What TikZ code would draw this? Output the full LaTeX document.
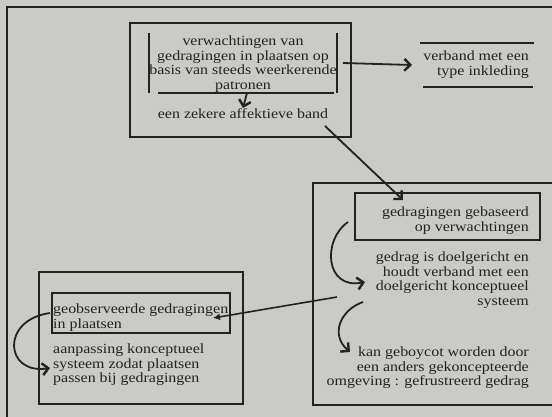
\documentclass[tikz,border=0pt]{standalone}
\usepackage{fontspec}
\setmainfont{Liberation Serif}[FakeStretch=1.14]
\usepackage{xcolor}
\definecolor{paper}{HTML}{CACAC6}
\definecolor{ink}{HTML}{222222}
\usepackage{tikz}
\usetikzlibrary{arrows.meta, positioning, calc}

\begin{document}
\begin{tikzpicture}[x=1pt, y=-1pt, font=\fontsize{14}{14.4}\selectfont,
  frame/.style={draw=ink, line width=2pt},
  txt/.style={inner sep=0pt, text=ink},
  arr/.style={draw=ink, line width=1.8pt, -{Straight Barb[length=6pt, width=12pt, line width=2.4pt]}},
  dotarr/.style={draw=ink, line width=1.6pt, -{Latex[length=7pt, width=7pt]}}]
  \fill[paper] (0,0) rectangle (552,417);
  \useasboundingbox (0,0) rectangle (552,417);

  % outer frame
  \draw[frame] (7,417) -- (7,7) -- (552,7);

  % top block
  \node[frame, minimum width=221pt, minimum height=114pt] (topbox) at (240.5,80) {};
  \node[txt, anchor=north, align=center] (verw) at (243,36) {verwachtingen van\\gedragingen in plaatsen op\\basis van steeds weerkerende\\patronen};
  \draw[frame] (149,33) -- (149,93) (337,33) -- (337,93);
  \draw[frame] (158,93) -- (334,93);
  \coordinate (verw-s) at (247,93);
  \coordinate (verw-e) at (343,63);
  \node[txt, anchor=north] (band) at (243,108) {een zekere affektieve band};
  \draw[arr] (verw-s) -- (band.north);

  \node[txt, anchor=north east, align=right] (verband) at (529,51) {verband met een\\type inkleding};
  \draw[frame] (420,43) -- (534,43) (423,87) -- (533,87);
  \coordinate (verband-in) at (412,65);
  \draw[arr] (verw-e) -- (verband-in);

  % right block
  \draw[frame] (552,183) -- (313,183) -- (313,405) -- (552,405);
  \node[frame, minimum width=185pt, minimum height=47pt] (gebbox) at (447.5,216.5) {};
  \node[txt, anchor=north east, align=right] (gebas) at (529,207) {gedragingen gebaseerd\\op verwachtingen};
  \node[txt, anchor=north east, align=right] (doel) at (529,252) {gedrag is doelgericht en\\houdt verband met een\\doelgericht konceptueel\\systeem};
  \node[txt, anchor=north east, align=right] (boycot) at (529,347) {kan geboycot worden door\\een anders gekoncepteerde\\omgeving : gefrustreerd gedrag};
  \coordinate (band-e) at (325,126);
  \coordinate (gebas-in) at (403,200);
  \coordinate (geb-l) at (348,222);
  \coordinate (doel-l) at (365,282);
  \coordinate (doel-bl) at (363,302);
  \coordinate (boycot-l) at (350,352);
  \coordinate (rb-w) at (337,297);
  \draw[arr] (band-e) -- (gebas-in);
  \draw[arr] (geb-l) .. controls (322,240) and (325,290) .. (doel-l);
  \draw[arr] (doel-bl) .. controls (340,310) and (330,335) .. (boycot-l);

  % left block
  \node[frame, minimum width=204pt, minimum height=132pt] (leftbox) at (141,338) {};
  \node[frame, minimum width=178pt, minimum height=40pt] (geobsbox) at (141,313) {};
  \node[txt, anchor=north west, align=left] (geobs) at (53,304) {geobserveerde gedragingen\\in plaatsen};
  \node[txt, anchor=north west, align=left] (aanp) at (53,344) {aanpassing konceptueel\\systeem zodat plaatsen\\passen bij gedragingen};
  \coordinate (geobs-in) at (213,318);
  \coordinate (geobs-l) at (50,313);
  \coordinate (aanp-l) at (50,368);
  \draw[dotarr] (rb-w) -- (geobs-in);
  \draw[arr] (geobs-l) .. controls (0,320) and (5,375) .. (aanp-l);
\end{tikzpicture}
\end{document}
